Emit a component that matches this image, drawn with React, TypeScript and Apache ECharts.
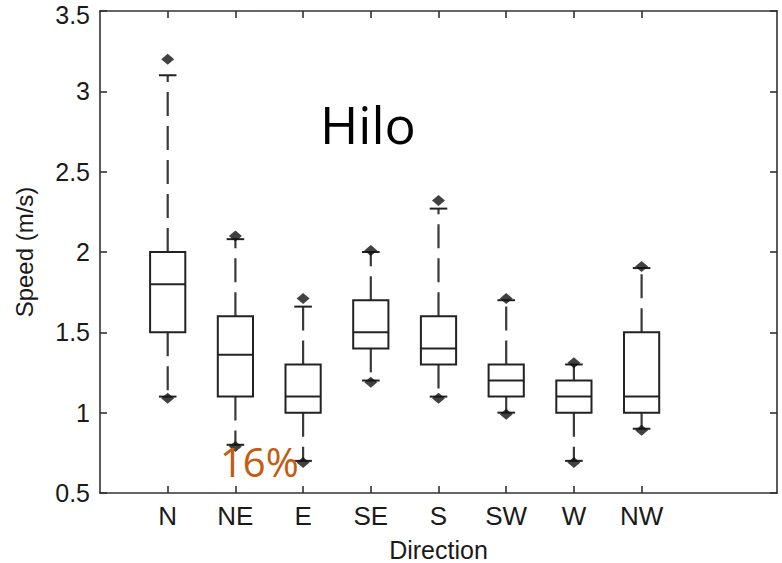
import React, { useEffect, useRef } from "react";
import * as echarts from "echarts";

const categories = ["N", "NE", "E", "SE", "S", "SW", "W", "NW"];
const axisCategories = ["", ...categories, "", ""];
const whiskerLow = [1.1, 0.8, 0.7, 1.2, 1.1, 1.0, 0.7, 0.9];
const q1 = [1.5, 1.1, 1.0, 1.4, 1.3, 1.1, 1.0, 1.0];
const median = [1.8, 1.36, 1.1, 1.5, 1.4, 1.2, 1.1, 1.1];
const q3 = [2.0, 1.6, 1.3, 1.7, 1.6, 1.3, 1.2, 1.5];
const whiskerHigh = [3.1, 2.08, 1.66, 2.0, 2.27, 1.7, 1.3, 1.9];
const outlierCat = ["N", "N", "NE", "NE", "E", "E", "SE", "SE", "S", "S", "SW", "SW", "W", "W", "NW", "NW"];
const outlierVal = [3.2, 1.09, 2.1, 0.79, 1.71, 0.69, 2.01, 1.19, 2.32, 1.09, 1.71, 0.99, 1.31, 0.69, 1.91, 0.89];
const yTicks = { min: 0.5, max: 3.5, interval: 0.5 };
const titleText = "Hilo";
const noteText = "16%";
const xName = "Direction";
const yName = "Speed (m/s)";

const AXIS_FONT = "'Liberation Sans', Arial, sans-serif";

export default function App() {
  const ref = useRef<HTMLDivElement>(null);
  useEffect(() => {
    if (!ref.current) return;
    const chart = echarts.init(ref.current, undefined, { renderer: "svg" });
    const tickFilter = (idx: number) => idx >= 1 && idx <= 8;
    const axisLine = { show: true, lineStyle: { color: "#333", width: 1.6 } };
    const axisTick = { show: true, inside: true, length: 7, lineStyle: { color: "#333", width: 1.6 } };
    const boxData = categories.map((c, i) => [
      i + 1,
      whiskerLow[i],
      q1[i],
      median[i],
      q3[i],
      whiskerHigh[i],
    ]);
    const outlierData = outlierCat.map((c, i) => [categories.indexOf(c) + 1, outlierVal[i]]);
    chart.setOption({
      animation: false,
      grid: { left: 100, right: 5, top: 11, bottom: 70, containLabel: false, outerBoundsMode: "none" },
      xAxis: [
        {
          type: "category",
          data: axisCategories,
          boundaryGap: false,
          position: "bottom",
          axisLine,
          axisTick: { ...axisTick, interval: tickFilter },
          axisLabel: {
            interval: tickFilter,
            color: "#1a1a1a",
            fontFamily: AXIS_FONT,
            fontSize: 26,
            margin: 10,
          },
          name: xName,
          nameLocation: "middle",
          nameGap: 47,
          nameTextStyle: { color: "#1a1a1a", fontFamily: AXIS_FONT, fontSize: 25, lineHeight: 20 },
          splitLine: { show: false },
        },
        {
          type: "category",
          data: axisCategories,
          boundaryGap: false,
          position: "top",
          axisLine,
          axisTick: { ...axisTick, interval: tickFilter },
          axisLabel: { show: false },
          splitLine: { show: false },
        },
      ],
      yAxis: [
        {
          type: "value",
          ...yTicks,
          position: "left",
          axisLine,
          axisTick,
          axisLabel: {
            color: "#1a1a1a",
            fontFamily: AXIS_FONT,
            fontSize: 25,
            margin: 10,
            lineHeight: 20,
            formatter: (v: number) => (v === yTicks.max ? `{t|${v}}` : `${v}`),
            rich: {
              t: {
                color: "#1a1a1a",
                fontFamily: AXIS_FONT,
                fontSize: 25,
                lineHeight: 20,
                padding: [7, 0, 0, 0],
              },
            },
          },
          name: yName,
          nameLocation: "middle",
          nameGap: 64,
          nameTextStyle: { color: "#1a1a1a", fontFamily: AXIS_FONT, fontSize: 24 },
          splitLine: { show: false },
        },
        {
          type: "value",
          ...yTicks,
          position: "right",
          axisLine,
          axisTick,
          axisLabel: { show: false },
          splitLine: { show: false },
        },
      ],
      series: [
        {
          type: "custom",
          xAxisIndex: 0,
          yAxisIndex: 0,
          data: boxData,
          encode: { x: 0, y: [1, 2, 3, 4, 5] },
          renderItem: (params: any, api: any) => {
            const x = api.value(0);
            const pLo = api.coord([x, api.value(1)]);
            const pQ1 = api.coord([x, api.value(2)]);
            const pMed = api.coord([x, api.value(3)]);
            const pQ3 = api.coord([x, api.value(4)]);
            const pHi = api.coord([x, api.value(5)]);
            const band = api.size([1, 0])[0];
            const hw = band * 0.26;
            const cw = band * 0.13;
            const cx = pMed[0];
            const dash = { stroke: "#3a3a3a", lineWidth: 2.2, lineDash: [24, 10] };
            const solid = { stroke: "#222", lineWidth: 2 };
            return {
              type: "group",
              children: [
                { type: "line", shape: { x1: cx, y1: pQ1[1], x2: cx, y2: pLo[1] }, style: dash },
                { type: "line", shape: { x1: cx, y1: pQ3[1], x2: cx, y2: pHi[1] }, style: dash },
                { type: "line", shape: { x1: cx - cw, y1: pLo[1], x2: cx + cw, y2: pLo[1] }, style: solid },
                { type: "line", shape: { x1: cx - cw, y1: pHi[1], x2: cx + cw, y2: pHi[1] }, style: solid },
                {
                  type: "rect",
                  shape: { x: cx - hw, y: pQ3[1], width: hw * 2, height: pQ1[1] - pQ3[1] },
                  style: { fill: "#fff", stroke: "#222", lineWidth: 2 },
                },
                { type: "line", shape: { x1: cx - hw, y1: pMed[1], x2: cx + hw, y2: pMed[1] }, style: solid },
              ],
            };
          },
          z: 2,
        },
        {
          type: "scatter",
          xAxisIndex: 0,
          yAxisIndex: 0,
          data: outlierData,
          symbol: "diamond",
          symbolSize: [13, 11],
          itemStyle: { color: "#111" },
          z: 3,
        },
      ],
      graphic: [
        {
          type: "text",
          x: 320,
          y: 123,
          style: {
            text: titleText,
            fill: "#000",
            font: "52px 'Open Sans', 'Noto Sans', sans-serif",
            align: "left",
            verticalAlign: "middle",
          },
          z: 10,
        },
        {
          type: "text",
          x: 220,
          y: 461,
          style: {
            text: noteText,
            fill: "#C55A11",
            font: "40px 'Open Sans', 'Noto Sans', sans-serif",
            align: "left",
            verticalAlign: "middle",
          },
          z: 10,
        },
      ],
    });
    return () => chart.dispose();
  }, []);
  return (
    <div
      ref={ref}
      style={{ position: "fixed", left: 0, top: 0, width: 782, height: 563, background: "#fff" }}
    />
  );
}
